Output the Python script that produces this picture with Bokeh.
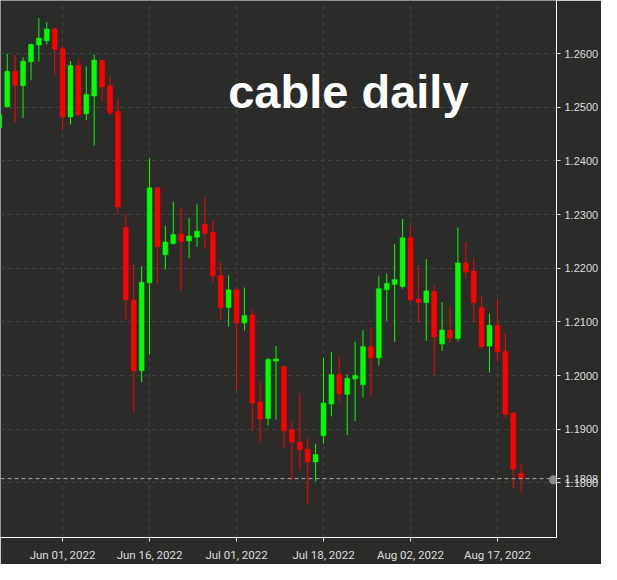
import pandas as pd
from bokeh.plotting import figure
from bokeh.models import ColumnDataSource, FixedTicker, Span, Label, NumeralTickFormatter, Range1d
from bokeh.embed import file_html
from bokeh.resources import INLINE

# ---- data (GBP/USD daily) ----
dates = pd.bdate_range("2022-05-20", "2022-08-22")

opens = [1.2462, 1.2501, 1.2567, 1.2540, 1.2585, 1.2616, 1.2624, 1.2646, 1.2609, 1.2482,
         1.2578, 1.2488, 1.2521, 1.2587, 1.2540, 1.2492, 1.2276, 1.2141, 1.2009, 1.2173,
         1.2350, 1.2225, 1.2246, 1.2264, 1.2251, 1.2258, 1.2282, 1.2267, 1.2187, 1.2127,
         1.2160, 1.2098, 1.2113, 1.1951, 1.1920, 1.2027, 1.2017, 1.1899, 1.1876, 1.1863,
         1.1839, 1.1888, 1.1947, 1.2002, 1.1965, 1.1994, 1.1983, 1.2054, 1.2033, 1.2160,
         1.2170, 1.2166, 1.2257, 1.2143, 1.2136, 1.2157, 1.2059, 1.2085, 1.2069, 1.2210,
         1.2195, 1.2127, 1.2055, 1.2094, 1.2045, 1.1930, 1.1818]
highs = [1.2496, 1.2600, 1.2598, 1.2593, 1.2619, 1.2666, 1.2659, 1.2649, 1.2615, 1.2586,
         1.2589, 1.2576, 1.2598, 1.2589, 1.2558, 1.2516, 1.2300, 1.2207, 1.2204, 1.2405,
         1.2351, 1.2279, 1.2324, 1.2314, 1.2294, 1.2319, 1.2333, 1.2290, 1.2212, 1.2187,
         1.2164, 1.2164, 1.2124, 1.1989, 1.2033, 1.2055, 1.2018, 1.1915, 1.1967, 1.1883,
         1.1873, 1.2033, 1.2044, 1.2036, 1.2002, 1.2063, 1.2085, 1.2090, 1.2185, 1.2190,
         1.2245, 1.2292, 1.2279, 1.2206, 1.2217, 1.2168, 1.2137, 1.2129, 1.2276, 1.2249,
         1.2218, 1.2147, 1.2116, 1.2142, 1.2078, 1.1932, 1.1835]
lows = [1.2454, 1.2499, 1.2471, 1.2480, 1.2551, 1.2585, 1.2617, 1.2560, 1.2458, 1.2468,
        1.2483, 1.2476, 1.2429, 1.2512, 1.2485, 1.2300, 1.2105, 1.1931, 1.1988, 1.2039,
        1.2171, 1.2198, 1.2244, 1.2159, 1.2219, 1.2240, 1.2236, 1.2174, 1.2105, 1.2091,
        1.1973, 1.2084, 1.1897, 1.1875, 1.1907, 1.1918, 1.1864, 1.1806, 1.1825, 1.1759,
        1.1803, 1.1873, 1.1924, 1.1952, 1.1889, 1.1915, 1.1959, 1.1961, 1.2019, 1.2102,
        1.2063, 1.2162, 1.2140, 1.2099, 1.2065, 1.2001, 1.2046, 1.2061, 1.2064, 1.2182,
        1.2098, 1.2049, 1.2006, 1.2027, 1.1922, 1.1790, 1.1781]
closes = [1.2486, 1.2567, 1.2541, 1.2586, 1.2617, 1.2629, 1.2646, 1.2608, 1.2482, 1.2578,
          1.2486, 1.2524, 1.2588, 1.2538, 1.2490, 1.2314, 1.2141, 1.2009, 1.2174, 1.2350,
          1.2240, 1.2249, 1.2263, 1.2250, 1.2260, 1.2269, 1.2265, 1.2186, 1.2127, 1.2160,
          1.2098, 1.2112, 1.1949, 1.1919, 1.2030, 1.2031, 1.1897, 1.1876, 1.1862, 1.1839,
          1.1853, 1.1949, 1.2002, 1.1966, 1.1995, 1.2000, 1.2054, 1.2033, 1.2162, 1.2172,
          1.2179, 1.2257, 1.2141, 1.2136, 1.2158, 1.2072, 1.2085, 1.2070, 1.2210, 1.2193,
          1.2136, 1.2054, 1.2094, 1.2044, 1.1928, 1.1826, 1.1808]

tick_dates = ["2022-06-01", "2022-06-16", "2022-07-01", "2022-07-18", "2022-08-02", "2022-08-17"]
price_ticks = [1.18, 1.19, 1.20, 1.21, 1.22, 1.23, 1.24, 1.25, 1.26]
last_price = 1.1808
title_text = "cable daily"

# ---- styling ----
BG = "#2b2c2a"
GRID = "#434442"
UP = "#00ff00"
DOWN = "#ff0000"
LABEL = "#dcdcdc"

idx = list(range(len(dates)))
colors = [UP if c >= o else DOWN for o, c in zip(opens, closes)]
tops = [max(o, c) for o, c in zip(opens, closes)]
bots = [min(o, c) for o, c in zip(opens, closes)]
src = ColumnDataSource(dict(x=idx, high=highs, low=lows, top=tops, bottom=bots, color=colors))

tick_pos = [int(dates.get_loc(pd.Timestamp(d))) for d in tick_dates]
tick_labels = {p_: pd.Timestamp(d).strftime("%b %d, %Y") for p_, d in zip(tick_pos, tick_dates)}

x_start, x_end = 0.148, 70.47
p = figure(width=601, height=564,
           x_range=Range1d(x_start, x_end), y_range=Range1d(1.16983, 1.2699),
           y_axis_location="right", output_backend="svg", toolbar_location=None,
           background_fill_color=BG, border_fill_color=BG,
           min_border_left=0, min_border_top=0, min_border_right=44, min_border_bottom=24)
p.outline_line_color = None

p.segment(x0="x", y0="low", x1="x", y1="high", color="color", line_width=1, source=src)
p.vbar(x="x", top="top", bottom="bottom", width=0.62, fill_color="color",
       line_color="color", line_width=0.5, source=src)

# axes: the last price is shown as an extra right-axis label overlapping 1.1800
p.xaxis.ticker = FixedTicker(ticks=tick_pos)
p.xaxis.major_label_overrides = tick_labels
p.yaxis.ticker = FixedTicker(ticks=price_ticks + [last_price])
p.yaxis.formatter = NumeralTickFormatter(format="0.0000")
for ax in (p.xaxis, p.yaxis):
    ax.axis_line_color = "#ffffff"
    ax.axis_line_width = 1
    ax.major_tick_line_color = "#dddddd"
    ax.major_tick_out = 4
    ax.major_tick_in = 0
    ax.minor_tick_line_color = None
    ax.major_label_text_color = LABEL
    ax.major_label_text_font_size = "11px"
p.xaxis.major_label_text_font = "Roboto"
p.xaxis.major_label_text_font_size = "11.5px"
p.xaxis.major_label_standoff = 6
p.yaxis.major_label_text_font = "Liberation Sans"
p.yaxis.major_label_standoff = 4

p.xgrid.ticker = FixedTicker(ticks=tick_pos)
p.ygrid.ticker = FixedTicker(ticks=price_ticks)
p.grid.grid_line_color = GRID
p.grid.grid_line_dash = "4 4"
p.grid.grid_line_width = 1

# current price line and marker
p.add_layout(Span(location=last_price, dimension="width", line_color="#a8a8a8",
                  line_dash="4 3", line_width=1))
p.add_layout(Label(x=x_end, y=last_price, x_offset=-3, text="\u25cf", text_align="center",
                   text_baseline="middle", text_color="#8a8a8a", text_font_size="12px",
                   text_font="DejaVu Sans"))

# title
p.add_layout(Label(x=28.95, y=1.2530, text=title_text, text_color="#ffffff",
                   text_font="Liberation Sans", text_font_style="bold",
                   text_font_size="47px", text_baseline="alphabetic"))

open("out.html", "w").write(file_html(p, INLINE))
